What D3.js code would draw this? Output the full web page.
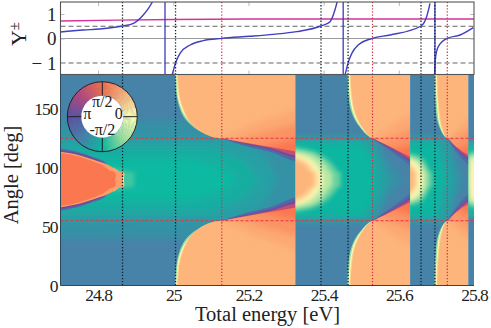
<!DOCTYPE html>
<html>
<head>
<meta charset="utf-8">
<script src="https://cdn.jsdelivr.net/npm/d3@7"></script>
<style>
  body { margin: 0; background: #fff; }
  svg { display: block; }
  text { font-family: "Liberation Serif", serif; fill: #222; }
</style>
</head>
<body>
<div id="chart"></div>
<script>
// tick values and labels
var energyTicks = [24.8, 25, 25.2, 25.4, 25.6, 25.8];
var angleTicks = [0, 50, 100, 150];
var gammaTicks = [-1, 0, 1];
var wheelTicks = ["π/2", "π", "0", "-π/2"];

// reference lines
var blackLines = [24.865, 25.006, 25.393, 25.465, 25.659, 25.696];
var redLines = [25.129, 25.53, 25.729];
var blueVerticals = [24.978, 25.452, 25.696];
var redAngles = [55, 125];
var dashedGamma = [0.5, -1];

// top panel curves [energy, gamma]
var magenta = [[24.7, 0.71], [24.85, 0.75], [25, 0.78], [25.2, 0.8], [25.8, 0.8]];
var branch1 = [[24.7, 0.265], [24.761, 0.347], [24.805, 0.388], [24.865, 0.51], [24.894, 0.619], [24.916, 0.891], [24.934, 1.231], [24.945, 1.503]];
var branch2 = [[24.997, -1.49], [25.006, -1], [25.018, -0.605], [25.045, -0.265], [25.08, -0.088], [25.129, 0.007], [25.204, 0.09], [25.266, 0.17], [25.328, 0.28], [25.393, 0.51], [25.417, 0.687], [25.43, 1.163], [25.436, 1.5]];
var branch3 = [[25.457, -1.49], [25.466, -0.945], [25.475, -0.605], [25.492, -0.265], [25.53, 0.007], [25.577, 0.143], [25.659, 0.51], [25.674, 0.891], [25.683, 1.435]];
var branch4 = [[25.695, -1.49], [25.698, -0.741], [25.705, -0.333], [25.729, 0.007], [25.763, 0.143], [25.798, 0.442]];

// phase colours around the wheel
var phaseStops = [-3.1416, -2.356, -1.571, -0.785, 0, 0.785, 1.571, 2.356, 3.1416];
var phaseColors = ["#5e4fa2", "#4a7ea9", "#0cb8a0", "#a5e2a0", "#fefdb5", "#fdb57b", "#f96c48", "#b8467a", "#5e4fa2"];

// heatmap: the jumps between strips
var stripEdges = [24.7, 25.325, 25.63, 25.785, 25.8];

// broad iso-phase bands, phase + outline in [energy, angle], mirrored about 90 deg
var soft1 = [
  [-2.1, [[24.6, 140], [25.4, 140], [25.4, 88], [24.6, 88]]],
  [-1.9, [[24.6, 127], [25.13, 125], [25.24, 112], [25.28, 88], [24.6, 88]]],
  [-1.7, [[24.6, 117], [25.1, 117], [25.19, 105], [25.23, 88], [24.6, 88]]],
  [-1.55, [[24.6, 107], [25.05, 107], [25.13, 100], [25.17, 88], [24.6, 88]]]
];
var soft2 = [
  [-2.1, [[25.3, 128], [25.53, 127], [25.61, 88], [25.3, 88]]],
  [-1.85, [[25.3, 125], [25.53, 125], [25.575, 88], [25.3, 88]]],
  [-1.6, [[25.3, 121], [25.5, 121], [25.53, 110], [25.54, 88], [25.3, 88]]]
];
var soft3 = [
  [-2.1, [[25.6, 128], [25.729, 127], [25.775, 88], [25.6, 88]]],
  [-1.85, [[25.6, 125], [25.729, 125], [25.75, 88], [25.6, 88]]],
  [-1.6, [[25.6, 121], [25.7, 121], [25.725, 88], [25.6, 88]]]
];
var soft4 = [
  [-1.6, [[25.76, 121], [25.82, 121], [25.82, 88], [25.76, 88]]]
];

// faint glow off the red lobe's tip
var leftGlow = [
  [-1.3, [[24.84, 100], [24.868, 98], [24.887, 94], [24.895, 90]]]
];
// red lobe on the left, tip at 90 deg
var leftLobe = [
  [-2.6, [[24.65, 117], [24.7, 116.5], [24.752, 113], [24.786, 109.2], [24.82, 104.5], [24.835, 90]]],
  [3, [[24.65, 115.5], [24.7, 115], [24.752, 112], [24.786, 108.5], [24.815, 104], [24.83, 98], [24.84, 90]]],
  [0, [[24.85, 98], [24.862, 94.5], [24.868, 90]]],
  [0.7, [[24.84, 100.5], [24.855, 96.5], [24.866, 90]]],
  [1.05, [[24.65, 114], [24.7, 113.5], [24.752, 110.4], [24.786, 107], [24.824, 102.8], [24.838, 100.5], [24.849, 97], [24.861, 92.5], [24.865, 90]]],
  [1.45, [[24.65, 113], [24.7, 112.5], [24.75, 109.3], [24.785, 105.5], [24.815, 101.5], [24.835, 96], [24.845, 90]]]
];

// pale crescents on the left side of strips 2, 3 and 4
var crescent2 = [
  [-1.1, [[25.31, 118], [25.381, 113], [25.426, 102], [25.444, 90]]],
  [-0.6, [[25.31, 115], [25.373, 110.8], [25.408, 101], [25.421, 90]]],
  [0, [[25.31, 112.8], [25.359, 108], [25.386, 99.5], [25.395, 90]]],
  [0.4, [[25.31, 110.8], [25.355, 106], [25.377, 98], [25.386, 90]]],
  [0.78, [[25.31, 108], [25.346, 103.7], [25.364, 96.6], [25.373, 90]]]
];
var crescent3 = [
  [-1.1, [[25.62, 112.2], [25.657, 109.4], [25.679, 99.5], [25.688, 90]]],
  [-0.6, [[25.62, 110], [25.652, 106.5], [25.67, 98], [25.674, 90]]],
  [0, [[25.62, 108], [25.648, 103.7], [25.658, 96.6], [25.661, 90]]],
  [0.4, [[25.62, 106], [25.641, 101.5], [25.649, 95.2], [25.651, 90]]],
  [0.78, [[25.62, 102.3], [25.637, 98], [25.641, 90]]]
];
var crescent4 = [
  [-1.1, [[25.78, 112], [25.82, 114]]],
  [-0.3, [[25.785, 108], [25.82, 111]]],
  [0.1, [[25.79, 104], [25.82, 107]]]
];

// orange lobes, upper half
var lobe1 = [
  [-0.9, [[25.004, 185], [25.007, 166], [25.013, 155], [25.028, 143], [25.056, 134], [25.095, 128], [25.129, 125], [25.34, 125], [25.34, 185]]],
  [0, [[25.007, 185], [25.01, 166], [25.016, 155], [25.033, 143], [25.06, 134.5], [25.097, 127.7], [25.129, 125], [25.34, 125], [25.34, 185]]],
  [0.45, [[25.009, 185], [25.012, 166], [25.019, 155], [25.037, 142], [25.064, 133], [25.099, 127], [25.129, 125], [25.34, 125], [25.34, 185]]],
  [0.78, [[25.012, 185], [25.015, 166], [25.023, 154], [25.042, 140], [25.068, 131.5], [25.1, 126.5], [25.129, 125], [25.34, 125], [25.34, 185]]]
];
var lobe2 = [
  [-0.9, [[25.463, 185], [25.466, 160], [25.475, 146.5], [25.494, 135.5], [25.5305, 125], [25.64, 125], [25.64, 185]]],
  [0, [[25.466, 185], [25.47, 160], [25.479, 146], [25.498, 135], [25.5305, 125], [25.64, 125], [25.64, 185]]],
  [0.45, [[25.468, 185], [25.473, 160], [25.482, 146], [25.501, 134.5], [25.5305, 125], [25.64, 125], [25.64, 185]]],
  [0.78, [[25.471, 185], [25.476, 160], [25.486, 145], [25.505, 133.5], [25.5305, 125], [25.64, 125], [25.64, 185]]]
];
var lobe3 = [
  [-0.9, [[25.695, 185], [25.697, 155], [25.706, 136], [25.729, 125], [25.79, 125], [25.79, 185]]],
  [0, [[25.698, 185], [25.701, 155], [25.71, 135], [25.729, 125], [25.79, 125], [25.79, 185]]],
  [0.45, [[25.7, 185], [25.703, 155], [25.713, 134], [25.729, 125], [25.79, 125], [25.79, 185]]],
  [0.78, [[25.702, 185], [25.706, 155], [25.716, 133.5], [25.729, 125], [25.79, 125], [25.79, 185]]]
];

// ribbons under each wedge's lower edge
var wedge1 = [
  [-2.7, [[25.129, 125], [25.186, 119], [25.257, 113.5], [25.34, 105.5], [25.34, 126]]],
  [3, [[25.129, 125], [25.186, 120.5], [25.257, 115.5], [25.34, 108.8], [25.34, 126]]],
  [2.2, [[25.129, 125], [25.186, 121.1], [25.257, 116.7], [25.34, 111], [25.34, 126]]]
];
var wedge2 = [
  [-2.7, [[25.5305, 124.5], [25.568, 116.5], [25.603, 108.5], [25.64, 101.5], [25.64, 126]]],
  [3, [[25.5305, 124.7], [25.568, 117.9], [25.603, 111.4], [25.64, 104.5], [25.64, 126]]],
  [2.2, [[25.5305, 125], [25.568, 118.7], [25.603, 112.6], [25.64, 106.5], [25.64, 126]]]
];
var wedge3 = [
  [-2.7, [[25.729, 124.5], [25.75, 115], [25.77, 107], [25.795, 101], [25.795, 126]]],
  [3, [[25.729, 124.7], [25.75, 117], [25.77, 110.5], [25.795, 105], [25.795, 126]]],
  [2.2, [[25.729, 125], [25.75, 117.8], [25.77, 112], [25.795, 107.5], [25.795, 126]]]
];

// lower edge of the orange/red area in each wedge
var edge1 = [[25.129, 125], [25.186, 121.6], [25.257, 117.5], [25.34, 113]];
var edge2 = [[25.5305, 125], [25.568, 119.3], [25.603, 113.6], [25.64, 107.8]];
var edge3 = [[25.729, 125], [25.75, 118.5], [25.77, 113.5], [25.795, 109]];

// orange to red shading above that edge
var tones1 = [
  [0.92, [[25.13, 125], [25.22, 138], [25.4, 158], [25.4, 100], [25.129, 112]]],
  [1.15, [[25.16, 122], [25.25, 131], [25.4, 144], [25.4, 100], [25.16, 108]]],
  [1.45, [[25.21, 115], [25.28, 121], [25.4, 130], [25.4, 100], [25.21, 103]]]
];
var tones2 = [
  [0.92, [[25.53, 125], [25.6, 140], [25.7, 155], [25.7, 95], [25.53, 112]]],
  [1.15, [[25.55, 122], [25.6, 128], [25.7, 142], [25.7, 95], [25.55, 108]]],
  [1.45, [[25.575, 115], [25.61, 118], [25.7, 126], [25.7, 95], [25.575, 103]]]
];
var tones3 = [
  [0.92, [[25.73, 125], [25.77, 138], [25.85, 152], [25.85, 95], [25.73, 112]]],
  [1.15, [[25.74, 122], [25.77, 128], [25.85, 140], [25.85, 95], [25.74, 108]]],
  [1.45, [[25.755, 115], [25.775, 118], [25.85, 126], [25.85, 95], [25.755, 103]]]
];

var width = 491, height = 328;
var left = 60.5, right = 474;

var svg = d3.select("#chart").append("svg").attr("width", width).attr("height", height);

var x = d3.scaleLinear().domain([24.7, 25.8]).range([left, right]);
var yAngle = d3.scaleLinear().domain([0, 180]).range([285.5, 73.5]);
var yGamma = d3.scaleLinear().domain([-1, 1]).range([63, 14]);
var phaseColor = d3.scaleLinear().domain(phaseStops).range(phaseColors);

var defs = svg.append("defs");
function blur(id, amount) {
  defs.append("filter").attr("id", id).attr("filterUnits", "userSpaceOnUse")
    .attr("x", -50).attr("y", -50).attr("width", width + 100).attr("height", height + 100)
    .append("feGaussianBlur").attr("stdDeviation", amount);
}
blur("softBlur", 3.2);
blur("midBlur", 1.9);
blur("sharpBlur", 0.65);

var lineSharp = d3.line().x(function(d) { return x(d[0]); }).y(function(d) { return yAngle(d[1]); })
  .curve(d3.curveCatmullRom.alpha(0.5));
var lineSoft = d3.line().x(function(d) { return x(d[0]); }).y(function(d) { return yAngle(d[1]); });

function mirror(pts) {
  return pts.map(function(p) { return [p[0], 180 - p[1]]; });
}

// close a half lobe so its tip stays round across the 90 deg line
function tipped(layer) {
  var pts = layer[1];
  var tip = pts[pts.length - 1][0];
  return [layer[0], pts.concat([[tip, 84], [pts[0][0], 84]])];
}

function drawLayers(g, layers, gen) {
  layers.forEach(function(layer) {
    [layer[1], mirror(layer[1])].forEach(function(pts) {
      g.append("path").attr("d", gen(pts) + "Z").attr("fill", phaseColor(layer[0]));
    });
  });
}

var strips = [
  { soft: soft1, mid: leftGlow.map(tipped), sharp: leftLobe.map(tipped).concat(lobe1, wedge1), edge: edge1, tones: tones1 },
  { soft: soft2, mid: crescent2.map(tipped), sharp: lobe2.concat(wedge2), edge: edge2, tones: tones2 },
  { soft: soft3, mid: crescent3.map(tipped), sharp: lobe3.concat(wedge3), edge: edge3, tones: tones3 },
  { soft: soft4, mid: crescent4.map(function(l) {
      return [l[0], l[1].concat([[25.82, 84], [l[1][0][0], 84]])];
    }), sharp: [] }
];

strips.forEach(function(strip, i) {
  var id = "strip" + i;
  defs.append("clipPath").attr("id", id).append("rect")
    .attr("x", x(stripEdges[i])).attr("width", x(stripEdges[i + 1]) - x(stripEdges[i]))
    .attr("y", 74.5).attr("height", yAngle(0) - 74.5);
  var g = svg.append("g").attr("clip-path", "url(#" + id + ")");
  var softG = g.append("g").attr("filter", "url(#softBlur)");
  softG.append("rect").attr("x", 0).attr("y", 0).attr("width", width).attr("height", height)
    .attr("fill", phaseColor(-2.3));
  drawLayers(softG, strip.soft, lineSoft);
  drawLayers(g.append("g").attr("filter", "url(#midBlur)"), strip.mid, lineSharp);
  drawLayers(g.append("g").attr("filter", "url(#sharpBlur)"), strip.sharp, lineSharp);

  // tones stay behind a crisp lower edge, one clip for each half
  if (strip.edge) {
    var last = strip.edge[strip.edge.length - 1][0];
    var outline = strip.edge.concat([[last, 190], [strip.edge[0][0], 190]]);
    [outline, mirror(outline)].forEach(function(pts, k) {
      var tid = id + "tone" + k;
      defs.append("clipPath").attr("id", tid).append("path").attr("d", lineSoft(pts) + "Z");
      var half = g.append("g").attr("clip-path", "url(#" + tid + ")").append("g").attr("filter", "url(#softBlur)");
      strip.tones.forEach(function(t) {
        var shape = k ? mirror(t[1]) : t[1];
        half.append("path").attr("d", lineSoft(shape) + "Z").attr("fill", phaseColor(t[0]));
      });
    });
  }
});

// red dashed angles
svg.selectAll(".redAngle").data(redAngles).enter().append("line").attr("class", "redAngle")
  .attr("x1", left).attr("x2", right)
  .attr("y1", yAngle).attr("y2", yAngle)
  .attr("stroke", "#e8343f").attr("stroke-width", 1).attr("stroke-dasharray", "3 2");

// top panel
var top_ = 2, bottom_ = 74.5;
defs.append("clipPath").attr("id", "topClip").append("rect")
  .attr("x", left).attr("y", top_).attr("width", right - left).attr("height", bottom_ - top_);
var panel = svg.append("g").attr("clip-path", "url(#topClip)");

panel.append("line").attr("x1", left).attr("x2", right)
  .attr("y1", yGamma(0)).attr("y2", yGamma(0))
  .attr("stroke", "#999").attr("stroke-width", 1.2);
panel.selectAll(".dash").data(dashedGamma).enter().append("line").attr("class", "dash")
  .attr("x1", left).attr("x2", right)
  .attr("y1", yGamma).attr("y2", yGamma)
  .attr("stroke", "#666").attr("stroke-width", 1.1).attr("stroke-dasharray", "5 3");

// inner grey ticks of the top panel
[[d3.axisBottom(x), top_], [d3.axisTop(x), bottom_]].forEach(function(a) {
  var tg = panel.append("g").attr("transform", "translate(0," + a[1] + ")")
    .call(a[0].tickValues(energyTicks).tickSize(4).tickFormat(""));
  tg.select(".domain").remove();
  tg.selectAll("line").attr("stroke", "#bbb");
});
[[d3.axisRight(yGamma), left], [d3.axisLeft(yGamma), right]].forEach(function(a) {
  var tg = panel.append("g").attr("transform", "translate(" + a[1] + ",0)")
    .call(a[0].tickValues(gammaTicks).tickSize(4).tickFormat(""));
  tg.select(".domain").remove();
  tg.selectAll("line").attr("stroke", "#bbb");
});

var gammaLine = d3.line().x(function(d) { return x(d[0]); }).y(function(d) { return yGamma(d[1]); });
panel.append("path").datum(magenta).attr("d", gammaLine.curve(d3.curveLinear))
  .attr("fill", "none").attr("stroke", "#d2349c").attr("stroke-width", 1.5);
panel.selectAll(".blueV").data(blueVerticals).enter().append("line").attr("class", "blueV")
  .attr("x1", x).attr("x2", x).attr("y1", top_).attr("y2", bottom_)
  .attr("stroke", "#3b3bc4").attr("stroke-width", 1.3);
panel.selectAll(".branch").data([branch1, branch2, branch3, branch4]).enter().append("path").attr("class", "branch")
  .attr("d", gammaLine.curve(d3.curveMonotoneX))
  .attr("fill", "none").attr("stroke", "#3f3fc0").attr("stroke-width", 1.4);

// dotted verticals through both panels
svg.selectAll(".blackLine").data(blackLines).enter().append("line").attr("class", "blackLine")
  .attr("x1", x).attr("x2", x).attr("y1", top_).attr("y2", yAngle(0))
  .attr("stroke", "#10202c").attr("stroke-width", 1.3).attr("stroke-dasharray", "1.3 1.8");
svg.selectAll(".redLine").data(redLines).enter().append("line").attr("class", "redLine")
  .attr("x1", x).attr("x2", x).attr("y1", top_).attr("y2", yAngle(0))
  .attr("stroke", "#d82c40").attr("stroke-width", 1.2).attr("stroke-dasharray", "1.3 1.8");

// frames
svg.append("rect").attr("x", left).attr("y", top_).attr("width", right - left).attr("height", bottom_ - top_)
  .attr("fill", "none").attr("stroke", "#555").attr("stroke-width", 1.1);
svg.append("line").attr("x1", left).attr("x2", left).attr("y1", bottom_).attr("y2", yAngle(0))
  .attr("stroke", "#2c4a5c").attr("stroke-width", 1);
svg.append("line").attr("x1", left).attr("x2", x(25.8)).attr("y1", yAngle(0)).attr("y2", yAngle(0))
  .attr("stroke", "#2c4a5c").attr("stroke-width", 1.2);

// axes
var xAxis = svg.append("g").attr("transform", "translate(0," + yAngle(0) + ")")
  .call(d3.axisBottom(x).tickValues(energyTicks).tickSize(0).tickPadding(3).tickFormat(function(d) { return String(d); }));
var angleAxis = svg.append("g").attr("transform", "translate(" + left + ",0)")
  .call(d3.axisLeft(yAngle).tickValues(angleTicks).tickSize(0).tickPadding(3));
var gammaAxis = svg.append("g").attr("transform", "translate(" + left + ",0)")
  .call(d3.axisLeft(yGamma).tickValues(gammaTicks).tickSize(0).tickPadding(4)
    .tickFormat(function(d) { return d < 0 ? "− " + Math.abs(d) : String(d); }));
[xAxis, angleAxis, gammaAxis].forEach(function(a, i) {
  a.select(".domain").remove();
  a.selectAll("text").style("font-family", '"Liberation Serif", serif').style("font-size", i == 2 ? "19px" : "17.5px")
    .style("letter-spacing", i == 2 ? "0" : "-1px").attr("fill", "#222");
});

svg.append("text").attr("x", 195).attr("y", 321).style("font-size", "20.5px").text("Total energy [eV]");
svg.append("text").attr("transform", "translate(18,175) rotate(-90)").attr("text-anchor", "middle")
  .style("font-size", "20.5px").text("Angle [deg]");
var gammaTitle = svg.append("text").attr("transform", "translate(26,34) rotate(-90)").attr("text-anchor", "middle")
  .style("font-size", "22px");
gammaTitle.append("tspan").text("Υ");
gammaTitle.append("tspan").attr("dy", -7).style("font-size", "15px").text("±");

// phase wheel
var wheel = svg.append("g").attr("transform", "translate(102.3,116.7)");
var rOuter = 35, rInner = 21;
var arc = d3.arc().innerRadius(rInner).outerRadius(rOuter);
var segs = d3.range(0, 180);
wheel.selectAll(".seg").data(segs).enter().append("path").attr("class", "seg")
  .attr("d", function(i) {
    // d3 arcs start at 12 o'clock and run clockwise, phase 0 sits at 3 o'clock
    return arc({ startAngle: i * 2 * Math.PI / 180, endAngle: (i + 1.2) * 2 * Math.PI / 180 });
  })
  .attr("fill", function(i) {
    var p = Math.PI / 2 - (i + 0.5) * 2 * Math.PI / 180;
    if (p < -Math.PI) p += 2 * Math.PI;
    return phaseColor(p);
  });
wheel.append("circle").attr("r", rInner).attr("fill", "#fff");
wheel.append("circle").attr("r", rOuter).attr("fill", "none").attr("stroke", "#222").attr("stroke-width", 1);
[0, 1, 2, 3].forEach(function(k) {
  var a = k * Math.PI / 2;
  wheel.append("line")
    .attr("x1", rInner * Math.cos(a)).attr("y1", rInner * Math.sin(a))
    .attr("x2", rOuter * Math.cos(a)).attr("y2", rOuter * Math.sin(a))
    .attr("stroke", "#222").attr("stroke-width", 1);
});
var wheelPos = [[0, -9.5], [-15, 2.5], [16.5, 2.5], [0, 18]];
wheel.selectAll(".wheelLabel").data(wheelTicks).enter().append("text").attr("class", "wheelLabel")
  .attr("x", function(d, i) { return wheelPos[i][0]; })
  .attr("y", function(d, i) { return wheelPos[i][1]; })
  .attr("text-anchor", "middle").style("font-size", "16px").text(function(d) { return d; });
</script>
</body>
</html>
